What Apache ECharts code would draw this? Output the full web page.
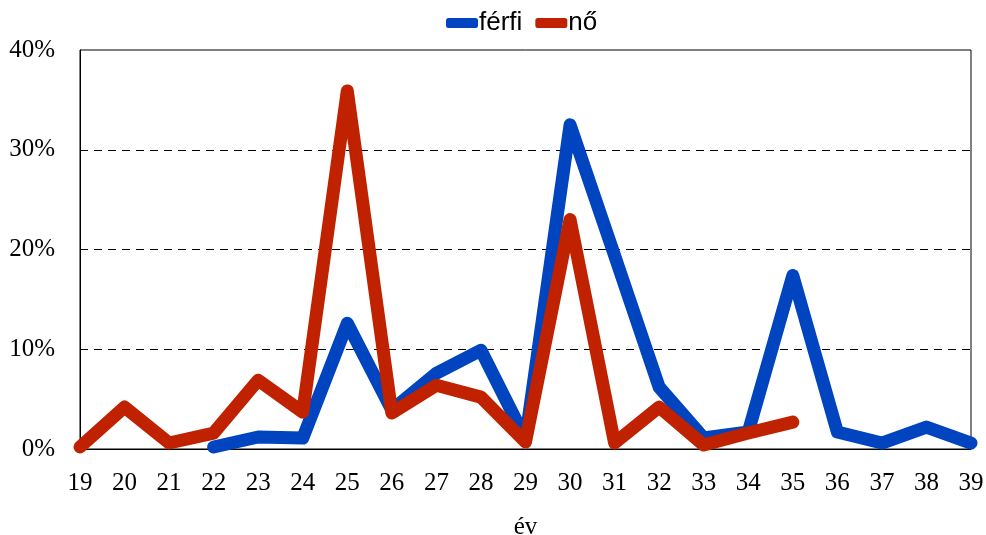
<!DOCTYPE html>
<html>
<head>
<meta charset="utf-8">
<script src="https://cdn.jsdelivr.net/npm/echarts@6/dist/echarts.min.js"></script>
<style>
  html, body { margin: 0; padding: 0; background: #fff; }
  #chart { width: 986px; height: 535px; }
</style>
</head>
<body>
<div id="chart"></div>
<script>
// életkor kategóriák
const years = ["19","20","21","22","23","24","25","26","27","28","29","30","31","32","33","34","35","36","37","38","39"];
// férfi arányok (%)
const ferfi = [null, null, null, 0.2, 1.2, 1.1, 12.6, 3.9, 7.6, 9.9, 1.0, 32.5, 19.4, 6.2, 1.1, 1.7, 17.4, 1.7, 0.6, 2.2, 0.6];
// nő arányok (%)
const no = [0.2, 4.2, 0.6, 1.6, 6.9, 3.7, 35.9, 3.6, 6.4, 5.2, 0.7, 23.0, 0.6, 4.2, 0.4, 1.6, 2.7, null, null, null, null];
const yTicks = [0, 10, 20, 30, 40];

const chart = echarts.init(document.getElementById("chart"));
const serif = "Liberation Serif";

chart.setOption({
  animation: false,
  color: ["#0044c0", "#c02200"],
  legend: {
    top: 10,
    left: 446,
    padding: 0,
    itemGap: 13,
    itemWidth: 32,
    itemHeight: 10,
    textStyle: { fontFamily: "Liberation Sans", fontSize: 26, color: "#000", padding: [0, 0, 0, -4] },
    data: [
      { name: "férfi", icon: "roundRect" },
      { name: "nő", icon: "roundRect" }
    ]
  },
  grid: {
    left: 80, right: 15, top: 50, bottom: 86,
    containLabel: false, outerBoundsMode: "none",
    show: true, borderColor: "#000", borderWidth: 1
  },
  xAxis: {
    type: "category",
    data: years,
    boundaryGap: false,
    name: "év",
    nameLocation: "middle",
    nameGap: 66,
    nameTextStyle: { fontFamily: serif, fontSize: 25, color: "#000" },
    axisLine: { lineStyle: { color: "#000" } },
    axisTick: { show: false },
    axisLabel: { fontFamily: serif, fontSize: 25, color: "#000", margin: 22 }
  },
  yAxis: {
    type: "value",
    min: yTicks[0],
    max: yTicks[yTicks.length - 1],
    interval: 10,
    axisLine: { show: true, lineStyle: { color: "#000" } },
    axisTick: { show: false },
    axisLabel: { fontFamily: serif, fontSize: 25, color: "#000", margin: 25, formatter: "{value}%" },
    splitLine: {
      show: true, showMinLine: false, showMaxLine: false,
      lineStyle: { color: "#000", type: [8, 6], width: 1 }
    }
  },
  series: [
    {
      name: "férfi", type: "line", data: ferfi, showSymbol: false,
      lineStyle: { width: 13, cap: "round", join: "round" }
    },
    {
      name: "nő", type: "line", data: no, showSymbol: false,
      lineStyle: { width: 13, cap: "round", join: "round" }
    }
  ]
});
</script>
</body>
</html>
